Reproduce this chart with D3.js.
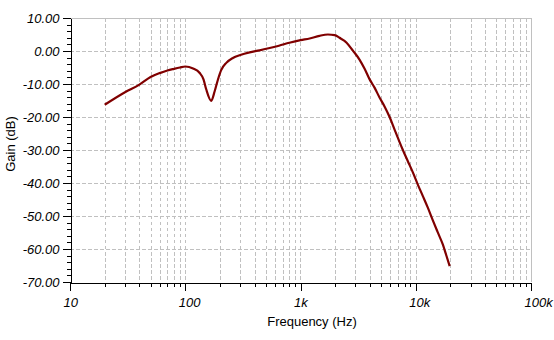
<!DOCTYPE html>
<html>
<head>
<meta charset="utf-8">
<script src="https://cdn.jsdelivr.net/npm/d3@7"></script>
<style>
  html, body { margin: 0; padding: 0; background: #fff; }
  svg { display: block; }
</style>
</head>
<body>
<svg id="chart" width="554" height="340"></svg>
<script>
// ---- data ----
const freqHz = [20, 30, 40, 50, 60, 70, 80, 90, 100, 117, 133, 144, 152, 168, 180, 192, 205, 227, 259, 300, 362, 442, 540, 650, 800, 1000, 1200, 1460, 1730, 1980, 2180, 2500, 2850, 3250, 3600, 3980, 4390, 4850, 5360, 5930, 6550, 7240, 7730, 8540, 9440, 10400, 11500, 12700, 14100, 15500, 17200, 18400, 19700];
const gainDb = [-16.3, -12.5, -10.2, -7.9, -6.7, -5.9, -5.4, -5.0, -4.7, -5.3, -6.6, -8.6, -11.6, -15.1, -12.2, -8.7, -5.8, -3.6, -2.1, -1.2, -0.4, 0.2, 0.9, 1.6, 2.5, 3.3, 3.8, 4.6, 5.0, 4.8, 4.0, 2.6, 0.1, -2.6, -5.4, -8.6, -11.1, -14.1, -16.8, -20.0, -23.8, -27.6, -30.0, -33.4, -36.8, -40.4, -43.9, -47.4, -51.4, -54.9, -58.7, -61.9, -65.2];
const yTicks = [10, 0, -10, -20, -30, -40, -50, -60, -70];
const xTicks = [10, 100, 1000, 10000, 100000];
const xTickLabels = ["10", "100", "1k", "10k", "100k"];
const xTitle = "Frequency (Hz)";
const yTitle = "Gain (dB)";

// ---- layout ----
const svg = d3.select("#chart");
const x = d3.scaleLog().domain([10, 100000]).range([70, 531]);
const y = d3.scaleLinear().domain([-70, 10]).range([282, 18]);
const FONT = "'Liberation Sans', Arial, sans-serif";

// minor x ticks
const xMinor = [];
[10, 100, 1000, 10000].forEach(d => { for (let k = 2; k <= 9; k++) xMinor.push(d * k); });
const xGrid = xMinor.concat([100, 1000, 10000]);
const yMinor = d3.range(-70, 10.001, 2).filter(v => v % 10 !== 0);

// grid
const grid = svg.append("g").attr("shape-rendering", "crispEdges");
grid.selectAll("line.vg").data(xGrid).join("line")
  .attr("x1", d => Math.round(x(d)) + 0.5).attr("x2", d => Math.round(x(d)) + 0.5)
  .attr("y1", y(10)).attr("y2", y(-70))
  .attr("stroke", "#c0c0c0").attr("stroke-dasharray", "3.5,2.5");
grid.selectAll("line.hg").data(yTicks.filter(v => v !== 10 && v !== -70)).join("line")
  .attr("y1", d => Math.round(y(d)) + 0.5).attr("y2", d => Math.round(y(d)) + 0.5)
  .attr("x1", x(10)).attr("x2", x(100000))
  .attr("stroke", "#c0c0c0").attr("stroke-dasharray", "3.5,2.5");
// top and right border
grid.append("line").attr("x1", x(10)).attr("x2", Math.round(x(100000)) + 0.5)
  .attr("y1", Math.round(y(10)) + 0.5).attr("y2", Math.round(y(10)) + 0.5).attr("stroke", "#c0c0c0");
grid.append("line").attr("x1", Math.round(x(100000)) + 0.5).attr("x2", Math.round(x(100000)) + 0.5)
  .attr("y1", y(10)).attr("y2", y(-70)).attr("stroke", "#c0c0c0");

// curve
const line = d3.line()
  .x((d, i) => x(freqHz[i]))
  .y(d => y(d))
  .curve(d3.curveMonotoneX);
svg.append("path").datum(gainDb)
  .attr("d", line)
  .attr("fill", "none")
  .attr("stroke", "#800000")
  .attr("stroke-width", 2.2)
  .attr("stroke-linejoin", "round");

// y axis
const yAxisG = svg.append("g").attr("transform", "translate(70.5,0)");
yAxisG.call(d3.axisLeft(y).tickValues(yTicks).tickSize(8).tickSizeOuter(0).tickPadding(3)
  .tickFormat(d => d.toFixed(2)));
yAxisG.append("g").call(d3.axisLeft(y).tickValues(yMinor).tickSize(4).tickSizeOuter(0).tickFormat(""))
  .select(".domain").remove();
yAxisG.selectAll("text").attr("font-family", FONT).attr("font-size", 13)
  .attr("font-style", "italic").attr("fill", "#000");

// x axis
const xAxisG = svg.append("g").attr("transform", "translate(0,282.5)");
xAxisG.call(d3.axisBottom(x).tickValues(xTicks).tickSize(8).tickSizeOuter(0)
  .tickFormat((d, i) => xTickLabels[i]));
xAxisG.append("g").call(d3.axisBottom(x).tickValues(xMinor).tickSize(4).tickSizeOuter(0).tickFormat(""))
  .select(".domain").remove();
xAxisG.selectAll(".tick text").attr("font-family", FONT).attr("font-size", 13)
  .attr("font-style", "italic").attr("fill", "#000")
  .attr("text-anchor", "start").attr("x", -7).attr("y", 24).attr("dy", 0);
svg.selectAll(".domain, .tick line").attr("stroke", "#000").attr("shape-rendering", "crispEdges");

// titles
svg.append("text").attr("x", 312).attr("y", 326).attr("text-anchor", "middle")
  .attr("font-family", FONT).attr("font-size", 13).attr("fill", "#000").text(xTitle);
svg.append("text").attr("transform", "translate(14.5,144) rotate(-90)").attr("text-anchor", "middle")
  .attr("font-family", FONT).attr("font-size", 13).attr("fill", "#000").text(yTitle);
</script>
</body>
</html>
